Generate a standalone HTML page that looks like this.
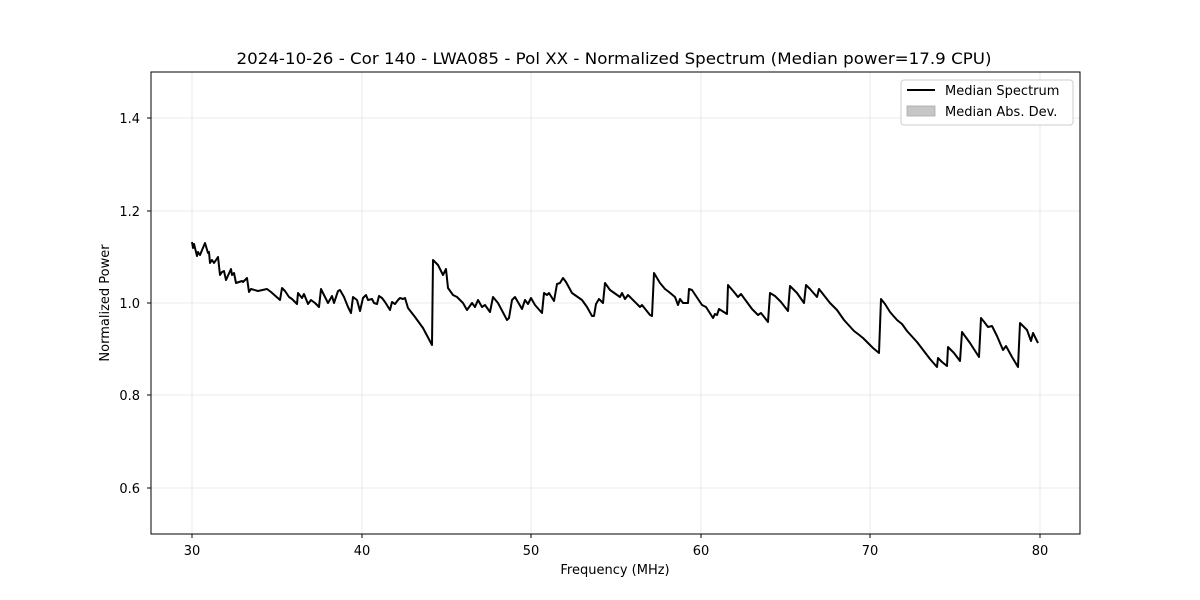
<!DOCTYPE html>
<html><head><meta charset="utf-8"><style>body{margin:0;background:#fff}svg{display:block}text{font-family:"DejaVu Sans","Liberation Sans",sans-serif;fill:#000}</style></head><body>
<svg width="1200" height="600" viewBox="0 0 1200 600" xmlns="http://www.w3.org/2000/svg">
<rect width="1200" height="600" fill="#fff"/>
<g stroke="#e5e5e5" stroke-width="0.8">
<line x1="192" y1="72" x2="192" y2="534"/><line x1="362" y1="72" x2="362" y2="534"/><line x1="531" y1="72" x2="531" y2="534"/><line x1="701" y1="72" x2="701" y2="534"/><line x1="870" y1="72" x2="870" y2="534"/><line x1="1040" y1="72" x2="1040" y2="534"/>
<line x1="151" y1="118" x2="1080" y2="118"/><line x1="151" y1="211" x2="1080" y2="211"/><line x1="151" y1="303" x2="1080" y2="303"/><line x1="151" y1="395" x2="1080" y2="395"/><line x1="151" y1="488" x2="1080" y2="488"/>
</g>
<polyline fill="none" stroke="#000" stroke-width="2" stroke-linejoin="round" points="192,242 193,248 194,244 197,256 198,252 200,255 205,243 208,253 209,252 210,263 212,260 214,263 218,257 220,275 222,272 224,271 226,280 231,269 232,275 234,273 236,283 242,281 243,282 247,278 249,292 251,289 258,291 267,289 271,292 280,300 282,288 285,291 289,297 292,299 297,304 298,293 302,298 304,294 308,304 311,300 315,303 319,307 321,289 325,297 328,303 332,296 334,303 338,291 340,290 344,297 348,307 351,313 353,297 357,300 360,311 363,298 366,295 368,300 372,299 374,303 377,304 379,296 382,298 385,302 390,310 392,302 395,304 398,300 400,298 403,299 405,298 408,308 415,317 423,328 432,345 433,260 438,265 443,275 446,269 448,288 453,295 457,297 462,302 463,303 467,310 472,303 475,307 478,300 482,307 485,305 490,312 493,297 498,303 507,320 509,318 512,300 515,297 522,309 525,300 528,304 531,298 535,305 542,313 544,293 547,295 549,293 554,301 557,284 560,283 563,278 566,282 572,293 582,300 587,307 592,316 594,316 596,304 599,299 603,303 605,283 610,290 620,297 622,293 625,299 628,295 640,307 642,305 650,315 652,316 654,273 660,283 665,289 669,292 675,297 678,305 680,299 683,303 688,303 689,289 692,290 702,305 706,307 713,318 715,314 717,315 719,309 727,314 728,285 734,292 738,297 741,294 752,309 758,315 761,313 768,322 770,293 775,296 781,302 788,311 790,286 797,293 804,303 806,285 810,289 817,297 819,289 830,303 837,310 844,320 854,331 858,334 863,338 873,348 879,353 881,299 885,304 890,312 897,320 902,324 907,331 917,342 930,359 937,367 938,358 942,362 947,366 948,347 954,353 960,361 962,332 970,343 979,357 981,318 985,323 988,327 992,326 997,336 1003,350 1006,346 1012,357 1018,367 1020,323 1027,330 1031,341 1033,333 1038,343"/>
<rect x="151" y="72" width="929" height="462" fill="none" stroke="#000" stroke-width="1"/>
<g stroke="#000" stroke-width="1">
<line x1="192" y1="534" x2="192" y2="538"/><line x1="362" y1="534" x2="362" y2="538"/><line x1="531" y1="534" x2="531" y2="538"/><line x1="701" y1="534" x2="701" y2="538"/><line x1="870" y1="534" x2="870" y2="538"/><line x1="1040" y1="534" x2="1040" y2="538"/>
<line x1="147" y1="118" x2="151" y2="118"/><line x1="147" y1="211" x2="151" y2="211"/><line x1="147" y1="303" x2="151" y2="303"/><line x1="147" y1="395" x2="151" y2="395"/><line x1="147" y1="488" x2="151" y2="488"/>
</g>
<g font-size="13" text-anchor="middle">
<text x="192" y="555">30</text><text x="362" y="555">40</text><text x="531" y="555">50</text><text x="701" y="555">60</text><text x="870" y="555">70</text><text x="1040" y="555">80</text>
</g>
<g font-size="13" text-anchor="end">
<text x="140" y="123">1.4</text><text x="140" y="216">1.2</text><text x="140" y="308">1.0</text><text x="140" y="400">0.8</text><text x="140" y="493">0.6</text>
</g>
<text x="615" y="574" font-size="13" text-anchor="middle">Frequency (MHz)</text>
<text transform="translate(109,303) rotate(-90)" font-size="13" text-anchor="middle">Normalized Power</text>
<text x="614" y="64" font-size="16" text-anchor="middle" textLength="755" lengthAdjust="spacingAndGlyphs">2024-10-26 - Cor 140 - LWA085 - Pol XX - Normalized Spectrum (Median power=17.9 CPU)</text>
<rect x="901" y="80" width="172" height="45" rx="3" fill="#fff" stroke="#ccc" stroke-width="1"/>
<line x1="907" y1="90" x2="935" y2="90" stroke="#000" stroke-width="2"/>
<rect x="907" y="106" width="28" height="10" fill="#c6c6c6" stroke="#aaa" stroke-width="0.8"/>
<text x="945" y="95" font-size="13">Median Spectrum</text>
<text x="945" y="116" font-size="13">Median Abs. Dev.</text>
</svg>
</body></html>
